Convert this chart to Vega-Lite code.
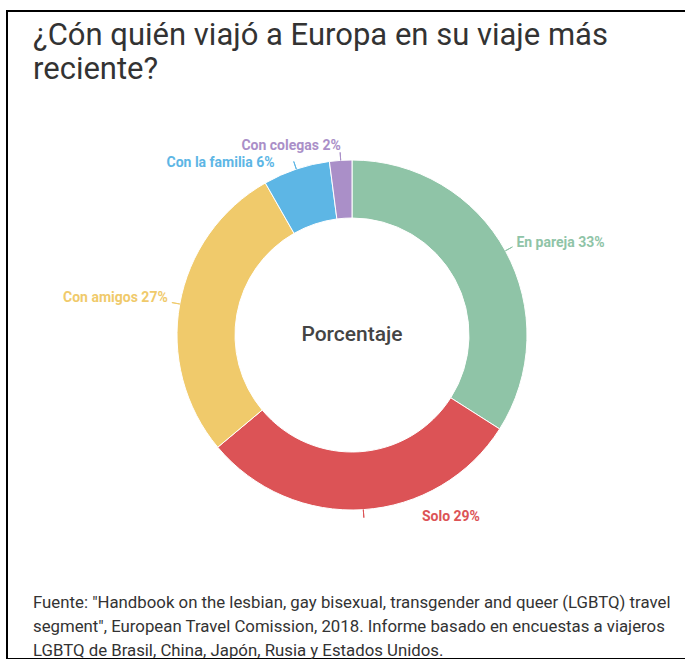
{
  "$schema": "https://vega.github.io/schema/vega-lite/v6.json",
  "width": 690,
  "height": 648,
  "autosize": {"type": "none"},
  "padding": {"left": 7, "top": 11, "right": 0, "bottom": 0},
  "background": "white",
  "view": {"stroke": "#000000", "strokeWidth": 2},
  "config": {"view": {"stroke": "#000000", "strokeWidth": 2}, "font": "Roboto"},
  "title": {
    "text": ["¿Cón quién viajó a Europa en su viaje más", "reciente?"],
    "subtitle": [
      "Fuente: \"Handbook on the lesbian, gay bisexual, transgender and queer (LGBTQ) travel",
      "segment\", European Travel Comission, 2018. Informe basado en encuestas a viajeros",
      "LGBTQ de Brasil, China, Japón, Rusia y Estados Unidos."
    ],
    "anchor": "start",
    "frame": "group",
    "orient": "top",
    "font": "Roboto",
    "fontSize": 31,
    "fontWeight": "normal",
    "color": "#333333",
    "lineHeight": 34,
    "subtitleFont": "Roboto",
    "subtitleFontSize": 16.8,
    "subtitleColor": "#333333",
    "subtitleLineHeight": 24,
    "subtitlePadding": 509,
    "offset": -650,
    "dx": 26
  },
  "datasets": {
    "viajes": [
      {"Grupo": "En pareja", "pct": 33, "etiqueta": "En pareja 33%"},
      {"Grupo": "Solo", "pct": 29, "etiqueta": "Solo 29%"},
      {"Grupo": "Con amigos", "pct": 27, "etiqueta": "Con amigos 27%"},
      {"Grupo": "Con la familia", "pct": 6, "etiqueta": "Con la familia 6%"},
      {"Grupo": "Con colegas", "pct": 2, "etiqueta": "Con colegas 2%"}
    ],
    "centro": [{"t": "Porcentaje"}]
  },
  "layer": [
    {
      "data": {"name": "viajes"},
      "mark": {"type": "arc", "innerRadius": 117, "outerRadius": 175, "stroke": "white", "strokeWidth": 1},
      "encoding": {
        "theta": {"field": "pct", "type": "quantitative", "stack": true},
        "order": {"field": "pct", "type": "quantitative", "sort": "descending"},
        "color": {
          "field": "Grupo",
          "type": "nominal",
          "legend": null,
          "scale": {
            "domain": ["En pareja", "Solo", "Con amigos", "Con la familia", "Con colegas"],
            "range": ["#8fc4a7", "#dc5356", "#f0ca6b", "#5db6e5", "#aa8fc8"]
          }
        }
      }
    },
    {
      "data": {"name": "viajes"},
      "mark": {"type": "arc", "innerRadius": 175, "outerRadius": 183, "padAngle": 1.5, "filled": false, "strokeWidth": 1},
      "encoding": {
        "theta": {"field": "pct", "type": "quantitative", "stack": true},
        "order": {"field": "pct", "type": "quantitative", "sort": "descending"},
        "color": {"field": "Grupo", "type": "nominal", "legend": null}
      }
    },
    {
      "data": {"name": "viajes"},
      "mark": {
        "type": "text",
        "radius": 215,
        "fontSize": 14,
        "fontWeight": "bold",
        "align": "center",
        "baseline": "middle",
        "dx": {"expr": "datum.Grupo == 'Solo' ? 85 : datum.Grupo == 'En pareja' ? 20 : datum.Grupo == 'Con amigos' ? -25 : datum.Grupo == 'Con la familia' ? -63 : -47"},
        "dy": {"expr": "datum.Grupo == 'Solo' ? -33 : datum.Grupo == 'En pareja' ? 11 : datum.Grupo == 'Con amigos' ? 1 : datum.Grupo == 'Con la familia' ? 32 : 26"}
      },
      "encoding": {
        "theta": {"field": "pct", "type": "quantitative", "stack": true},
        "order": {"field": "pct", "type": "quantitative", "sort": "descending"},
        "color": {"field": "Grupo", "type": "nominal", "legend": null},
        "text": {"field": "etiqueta", "type": "nominal"}
      }
    },
    {
      "data": {"name": "centro"},
      "mark": {"type": "text", "fontSize": 21, "fontWeight": 500, "color": "#444444", "align": "center", "baseline": "middle"},
      "encoding": {"text": {"field": "t", "type": "nominal"}}
    }
  ]
}
